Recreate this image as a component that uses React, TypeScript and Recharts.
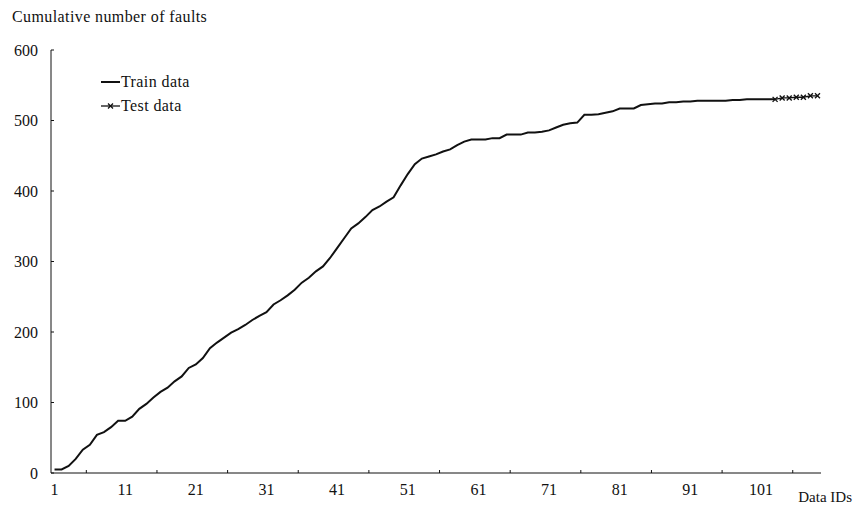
import React from 'react';
import { LineChart, Line, XAxis, YAxis } from 'recharts';

const trainFaults = [
  5, 5, 10, 20, 33, 40, 54, 58, 65, 74,
  74, 80, 91, 98, 107, 115, 121, 130, 137, 149,
  154, 163, 177, 185, 192, 199, 204, 210, 217, 223,
  228, 239, 245, 252, 260, 270, 277, 286, 293, 305,
  319, 333, 347, 354, 363, 373, 378, 385, 391, 408,
  424, 438, 446, 449, 452, 456, 459, 465, 470, 473,
  473, 473, 475, 475, 480, 480, 480, 483, 483, 484,
  486, 490, 494, 496, 497, 508, 508, 509, 511, 513,
  517, 517, 517, 522, 523, 524, 524, 526, 526, 527,
  527, 528, 528, 528, 528, 528, 529, 529, 530, 530,
  530, 530, 530,
];
const testStartId = 103;
const testFaults = [530, 532, 532, 533, 533, 535, 535];
const xTickLabels = [1, 11, 21, 31, 41, 51, 61, 71, 81, 91, 101];
const xTickMarks = [5.5, 15.5, 25.5, 35.5, 45.5, 55.5, 65.5, 75.5, 85.5, 95.5, 105.5];
const yTicks = [0, 100, 200, 300, 400, 500, 600];
const lastId = 109;

const FONT = '"Liberation Serif", "Times New Roman", serif';
const INK = '#111';

const data = Array.from({ length: lastId }, (_, i) => {
  const id = i + 1;
  const row: any = { id };
  if (i < trainFaults.length) row.train = trainFaults[i];
  if (id >= testStartId && id - testStartId < testFaults.length) row.test = testFaults[id - testStartId];
  return row;
});

const xTicks = [...xTickLabels, ...xTickMarks].sort((a, b) => a - b);

const XTick = (props: any) => {
  const { x, y, payload } = props;
  const v = payload.value;
  if (Number.isInteger(v)) {
    return (
      <text x={x} y={y + 22} textAnchor="middle" fontFamily={FONT} fontSize={16} fill={INK}>
        {v}
      </text>
    );
  }
  return <line x1={x} y1={y} x2={x} y2={y - 3} stroke={INK} strokeWidth={1} />;
};

const YTick = (props: any) => {
  const { x, y, payload } = props;
  return (
    <g>
      <line x1={x} y1={y} x2={x + 3} y2={y} stroke={INK} strokeWidth={1} />
      <text x={x - 13} y={y + 5.5} textAnchor="end" fontFamily={FONT} fontSize={16} fill={INK}>
        {payload.value}
      </text>
    </g>
  );
};

const Cross = (props: any) => {
  const { cx, cy } = props;
  if (cx == null || cy == null) return null;
  const r = 2.5;
  return (
    <g>
      <line x1={cx - r} y1={cy - r} x2={cx + r} y2={cy + r} stroke={INK} strokeWidth={1.3} />
      <line x1={cx - r} y1={cy + r} x2={cx + r} y2={cy - r} stroke={INK} strokeWidth={1.3} />
    </g>
  );
};

export default function App() {
  return (
    <div style={{ position: 'absolute', left: 0, top: 0, width: 856, height: 506, background: '#fff' }}>
      <LineChart width={856} height={506} data={data} margin={{ top: 50, right: 35, bottom: 0, left: 0 }}>
        <XAxis
          dataKey="id"
          type="number"
          domain={[0.5, lastId + 0.5]}
          ticks={xTicks}
          interval={0}
          tick={<XTick />}
          tickLine={false}
          tickSize={0}
          tickMargin={0}
          height={33}
          axisLine={{ stroke: INK, strokeWidth: 1 }}
          allowDataOverflow
        />
        <YAxis
          type="number"
          domain={[0, 600]}
          ticks={yTicks}
          interval={0}
          tick={<YTick />}
          tickLine={false}
          tickSize={0}
          tickMargin={0}
          width={51}
          axisLine={{ stroke: INK, strokeWidth: 1 }}
        />
        <Line
          dataKey="train"
          stroke={INK}
          strokeWidth={2}
          dot={false}
          isAnimationActive={false}
          connectNulls={false}
        />
        <Line
          dataKey="test"
          stroke={INK}
          strokeWidth={1.3}
          dot={<Cross />}
          isAnimationActive={false}
          connectNulls={false}
        />
      </LineChart>
      <div style={{ position: 'absolute', left: 12, top: 8, fontFamily: FONT, fontSize: 16, lineHeight: '18px', color: INK, letterSpacing: 0.4, whiteSpace: 'nowrap' }}>
        Cumulative number of faults
      </div>
      <div style={{ position: 'absolute', right: 4, top: 489, fontFamily: FONT, fontSize: 15, lineHeight: '17px', color: INK, whiteSpace: 'nowrap' }}>
        Data IDs
      </div>
      <div style={{ position: 'absolute', left: 101, top: 70, fontFamily: FONT, fontSize: 16, lineHeight: '24px', color: INK }}>
        <div style={{ display: 'flex', alignItems: 'center', height: 24 }}>
          <svg width={20} height={10} style={{ display: 'block' }}>
            <line x1={0} y1={5} x2={19} y2={5} stroke={INK} strokeWidth={2} />
          </svg>
          <span style={{ letterSpacing: 0.4 }}>Train data</span>
        </div>
        <div style={{ display: 'flex', alignItems: 'center', height: 24 }}>
          <svg width={20} height={10} style={{ display: 'block' }}>
            <line x1={0} y1={5} x2={19} y2={5} stroke={INK} strokeWidth={1.3} />
            <line x1={7} y1={2.5} x2={12} y2={7.5} stroke={INK} strokeWidth={1.3} />
            <line x1={7} y1={7.5} x2={12} y2={2.5} stroke={INK} strokeWidth={1.3} />
          </svg>
          <span style={{ letterSpacing: 0.4 }}>Test data</span>
        </div>
      </div>
    </div>
  );
}
